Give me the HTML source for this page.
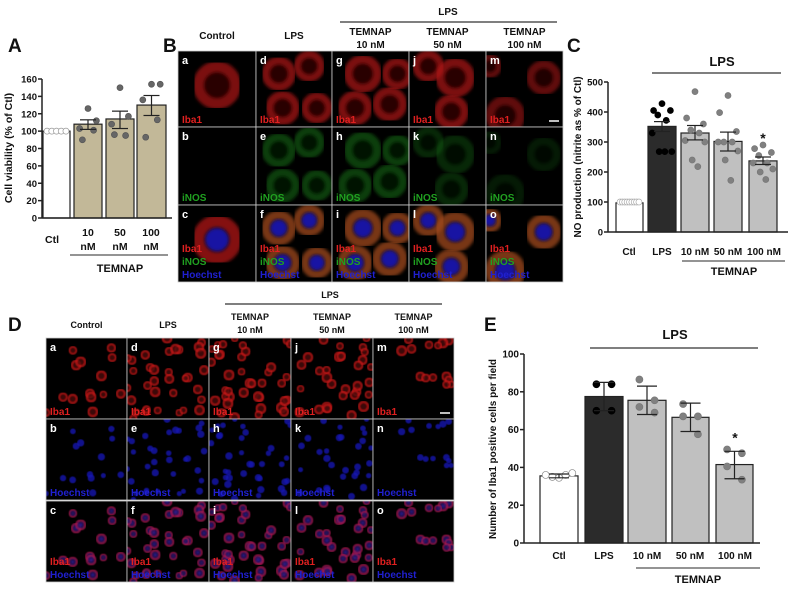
<!DOCTYPE html>
<html><head><meta charset="utf-8">
<style>
html,body{margin:0;padding:0;background:#fff;}
svg{display:block;font-family:"Liberation Sans",Arial,sans-serif;}
text{font-weight:bold;}
</style></head>
<body>
<svg id="fig" width="790" height="593" viewBox="0 0 790 593" xmlns="http://www.w3.org/2000/svg">
<defs>
<filter id="blur1"><feGaussianBlur stdDeviation="1.5"/></filter>
<filter id="blur2"><feGaussianBlur stdDeviation="0.6"/></filter>
</defs>
<g id="panelA"></g>
<g id="panelB"></g>
<g id="panelC"></g>
<g id="panelD"></g>
<g id="panelE"></g>
</svg>
<script>
// ---------- Panel A data ----------
const aCategories = ["Ctl","10 nM","50 nM","100 nM"];
const aMeans = [100,108,114,130];
const aErrLow = [100,102,103,118];
const aErrHigh = [100,113,123,141];
const aPoints = [[100,100,100,100,100],[126,112,103,101,90],[150,117,108,95,96],[154,154,136,113,93]];
const aTicks = [0,20,40,60,80,100,120,140,160];
// ---------- Panel C data ----------
const cCategories = ["Ctl","LPS","10 nM","50 nM","100 nM"];
const cMeans = [97,352,330,302,237];
const cErrLow = [97,335,307,270,225];
const cErrHigh = [97,368,355,333,250];
const cPoints = [[100,100,100,100,100,100,100,100,100],[428,405,405,390,372,330,268,268,268],[468,380,360,340,330,305,300,240,218],[455,398,335,300,300,300,270,240,172],[290,278,265,255,230,230,210,200,175]];
const cTicks = [0,100,200,300,400,500];
// ---------- Panel E data ----------
const eCategories = ["Ctl","LPS","10 nM","50 nM","100 nM"];
const eMeans = [35.5,77.5,75.5,66.5,41.5];
const eErrLow = [34.5,70,68,59,34];
const eErrHigh = [36.5,85,83,74,48.5];
const ePoints = [[36,35,34.5,36,37],[84,84,70,70],[86.5,75.5,72,69],[73.5,67,67,57.5],[49.5,47.5,40.5,33.5]];
const eTicks = [0,20,40,60,80,100];

const NS="http://www.w3.org/2000/svg";
function mk(parent,tag,attrs,txt){const e=document.createElementNS(NS,tag);for(const k in attrs)e.setAttribute(k,attrs[k]);if(txt!==undefined)e.textContent=txt;parent.appendChild(e);return e;}
const jitter={4:[0.3,0.7,0.3,0.7],5:[0.5,0.8,0.2,0.7,0.3],9:[0.5,0.2,0.8,0.35,0.65,0.15,0.85,0.4,0.6]};

function barChart(g,cfg,cats,means,lo,hi,pts,ticks){
  const y=v=>cfg.y0-(v-cfg.vmin)*(cfg.y0-cfg.yTop)/(cfg.vmax-cfg.vmin);
  cats.forEach((c,i)=>{
    const x0=cfg.bx[i][0],x1=cfg.bx[i][1];
    const r=mk(g,'rect',{x:x0,y:y(means[i]),width:x1-x0,height:cfg.y0-y(means[i]),fill:cfg.fills[i],stroke:'#222','stroke-width':1.2});
    
    
  });
  cats.forEach((c,i)=>{
    const x0=cfg.bx[i][0],x1=cfg.bx[i][1],w=x1-x0;
    const n=pts[i].length;
    pts[i].forEach((v,j)=>{
      const f = i===0 ? (0.15+0.7*j/(n-1)) : (jitter[n]?jitter[n][j]:0.5);
      const px = x0+w*f;
      const p=mk(g,'circle',{cx:px,cy:y(v),r:cfg.pr,fill:cfg.pf[i],stroke:cfg.ps[i],'stroke-width':0.7});
      
      
    });
  });
  cats.forEach((c,i)=>{
    if(lo[i]===hi[i])return;
    const cx=(cfg.bx[i][0]+cfg.bx[i][1])/2,cw=cfg.capW;
    const eg=mk(g,'g',{stroke:'#222','stroke-width':1.2});
    
    
    mk(eg,'line',{x1:cx,x2:cx,y1:y(lo[i]),y2:y(hi[i])});
    mk(eg,'line',{x1:cx-cw,x2:cx+cw,y1:y(lo[i]),y2:y(lo[i])});
    mk(eg,'line',{x1:cx-cw,x2:cx+cw,y1:y(hi[i]),y2:y(hi[i])});
  });
  const ax=mk(g,'g',{stroke:'#222','stroke-width':1.5});
  
  
  mk(ax,'line',{x1:cfg.ax,x2:cfg.ax,y1:cfg.yTop,y2:cfg.y0});
  mk(ax,'line',{x1:cfg.ax,x2:cfg.xEnd,y1:cfg.y0,y2:cfg.y0});
  ticks.forEach(t=>{
    mk(ax,'line',{x1:cfg.ax-4,x2:cfg.ax,y1:y(t),y2:y(t)});
    const tl=mk(g,'text',{x:cfg.ax-5,y:y(t)+3.5,'text-anchor':'end','font-size':cfg.tfs,fill:'#111'},t);
    
    
  });
  return y;
}
function txt(g,x,y,s,fs,name,anchor,fill,extra){const t=mk(g,'text',Object.assign({x:x,y:y,'font-size':fs,'text-anchor':anchor||'middle',fill:fill||'#111'},extra||{}),s);return t;}
function hline(g,x1,x2,y,name,c){const l=mk(g,'line',{x1:x1,x2:x2,y1:y,y2:y,stroke:c||'#555','stroke-width':1.2});}

(function(){
 const g=document.getElementById('panelA');
 txt(g,8,52,'A',19,'panel-label-a','start');
 barChart(g,{y0:218,yTop:79,vmin:0,vmax:160,ax:42,xEnd:172,bx:[[43,70],[74,102],[106,134],[137,166]],fills:['#fff','#c2b898','#c2b898','#c2b898'],pr:3,pf:['#fff','#666','#666','#666'],ps:['#999','#555','#555','#555'],capW:8,tfs:9.5},aCategories,aMeans,aErrLow,aErrHigh,aPoints,aTicks);
 txt(g,52,243,'Ctl',10.5,'x-label-ctl');
 [['10',88],['50',120],['100',151]].forEach(([n,x])=>{txt(g,x,236,n,10.5,'x-label-'+n+'-nm');txt(g,x,250,'nM',10.5,'x-label-'+n+'-nm-unit');});
 hline(g,70,168,255,'temnap-bracket');
 txt(g,120,272,'TEMNAP',11,'temnap-label');
 txt(g,0,0,'Cell viability (% of Ctl)',10.5,'y-axis-title','middle','#111',{transform:'translate(12,148) rotate(-90)'});
})();

(function(){
 const g=document.getElementById('panelC');
 txt(g,567,52,'C',19,'panel-label-c','start');
 const y=barChart(g,{y0:232,yTop:82,vmin:0,vmax:500,ax:608,xEnd:788,bx:[[616,643],[648,676],[681,709],[714,742],[749,777]],fills:['#fff','#2b2b2b','#c0c0c0','#c0c0c0','#c0c0c0'],pr:3,pf:['#fff','#000','#808080','#808080','#808080'],ps:['#aaa','#000','#777','#777','#777'],capW:8,tfs:9.5},cCategories,cMeans,cErrLow,cErrHigh,cPoints,cTicks);
 hline(g,652,781,73,'lps-bracket','#333');
 txt(g,722,66,'LPS',13,'lps-label');
 txt(g,763,y(cErrHigh[4])-14,'*',14,'significance-star');
 [['Ctl',629],['LPS',662],['10 nM',695],['50 nM',728],['100 nM',764]].forEach(([s,x])=>txt(g,x,255,s,10,'x-label-'+s.replace(' ','-').toLowerCase()));
 hline(g,682,785,261,'temnap-bracket');
 txt(g,734,275,'TEMNAP',11,'temnap-label');
 txt(g,0,0,'NO production (nitrite as % of Ctl)',10,'y-axis-title','middle','#111',{transform:'translate(581,157) rotate(-90)'});
})();

(function(){
 const g=document.getElementById('panelE');
 txt(g,484,331,'E',19,'panel-label-e','start');
 const y=barChart(g,{y0:543,yTop:354,vmin:0,vmax:100,ax:524,xEnd:760,bx:[[540,578],[585,623],[628,666],[672,709],[716,753]],fills:['#fff','#2b2b2b','#c0c0c0','#c0c0c0','#c0c0c0'],pr:3.5,pf:['#fff','#000','#808080','#808080','#808080'],ps:['#888','#000','#777','#777','#777'],capW:10,tfs:10},eCategories,eMeans,eErrLow,eErrHigh,ePoints,eTicks);
 hline(g,590,758,348,'lps-bracket','#333');
 txt(g,675,339,'LPS',13,'lps-label');
 txt(g,735,y(eErrHigh[4])-9,'*',14,'significance-star');
 [['Ctl',559],['LPS',604],['10 nM',647],['50 nM',690],['100 nM',735]].forEach(([s,x])=>txt(g,x,559,s,10,'x-label-'+s.replace(' ','-').toLowerCase()));
 hline(g,636,760,568,'temnap-bracket');
 txt(g,698,583,'TEMNAP',11,'temnap-label');
 txt(g,0,0,'Number of Iba1 positive cells per field',10,'y-axis-title','middle','#111',{transform:'translate(496,449) rotate(-90)'});
})();

// ---------- Micrographs ----------
let seed=7;function rnd(){seed=(seed*16807)%2147483647;return (seed-1)/2147483646;}
function micro(g,x,y,w,h,letter,labels,cells,scalebar,name){
 const pg=mk(g,'g',{});
 
 
 const cid='clip'+name;
 const cp=mk(pg,'clipPath',{id:cid});mk(cp,'rect',{x:x,y:y,width:w,height:h});
 mk(pg,'rect',{x:x,y:y,width:w,height:h,fill:'#000'});
 const cg=mk(pg,'g',{'clip-path':'url(#'+cid+')'});
 cells.forEach(c=>{
   mk(cg,'circle',{cx:c.x,cy:c.y,r:c.r*0.8,fill:c.fill2||'none',stroke:c.fill,'stroke-width':c.r*(c.sw||0.4),opacity:c.op,filter:'url('+(c.big?'#blur1':'#blur2')+')'});
   if(c.nuc)mk(cg,'circle',{cx:c.x,cy:c.y,r:c.r*0.5,fill:c.nuc,opacity:c.nop||0.85,filter:'url(#blur1)'});
 });
 txt(pg,x+4,y+13,letter,11,'panel-letter-'+letter,'start','#fff');
 labels.forEach((l,i)=>txt(pg,x+4,y+h-4-(labels.length-1-i)*13,l[0],10,'stain-label-'+l[0].toLowerCase(),'start',l[1],{'font-weight':'normal'}));
 if(scalebar)mk(pg,'line',{x1:x+w-14,x2:x+w-4,y1:y+h-6,y2:y+h-6,stroke:'#fff','stroke-width':1.5});
 mk(pg,'rect',{x:x,y:y,width:w,height:h,fill:'none',stroke:'#ccc','stroke-width':0.8});
}
(function(){
 const g=document.getElementById('panelB');
 txt(g,163,52,'B',19,'panel-label-b','start');
 const xs=[178,256,332,409,486,563], ys=[51,127,205,282];
 const heads=[['Control'],['LPS'],['TEMNAP','10 nM'],['TEMNAP','50 nM'],['TEMNAP','100 nM']];
 heads.forEach((h,i)=>{const cx=(xs[i]+xs[i+1])/2; if(h.length===1)txt(g,cx,39,h[0],10,'column-header-'+h[0].toLowerCase()); else {txt(g,cx,35,h[0],10,'column-header-temnap');txt(g,cx,48,h[1],10,'column-header-'+h[1].replace(' ','-').toLowerCase());}});
 hline(g,340,557,22,'lps-bracket','#333');
 txt(g,448,15,'LPS',10,'lps-header');
 const layouts=[[[0.5,0.45,0.3]],[[0.3,0.3,0.22],[0.7,0.2,0.2],[0.35,0.75,0.22],[0.8,0.75,0.2]],[[0.4,0.3,0.24],[0.85,0.3,0.2],[0.3,0.75,0.22],[0.75,0.7,0.22]],[[0.25,0.2,0.2],[0.6,0.35,0.25],[0.55,0.8,0.22]],[[0.05,0.2,0.15],[0.75,0.35,0.22],[0.25,0.85,0.25]]];
 const inten=[1,0.7,0.7,0.45,0.3];
 const letters=[['a','b','c'],['d','e','f'],['g','h','i'],['j','k','l'],['m','n','o']];
 for(let c=0;c<5;c++)for(let r=0;r<3;r++){
   const x=xs[c],y=ys[r],w=xs[c+1]-x,h=ys[r+1]-y;
   const cells=layouts[c].map(([u,v,s])=>{const cx=x+u*w,cy=y+v*h,rr=s*w;
     if(r===0)return{x:cx,y:cy,r:rr,fill:'#b01515',fill2:'#3a0505',op:c===4?0.55:0.7,sw:0.45,big:1};
     if(r===1)return{x:cx,y:cy,r:rr,fill:'#157015',fill2:'#062006',op:c===0?0:0.8*inten[c],sw:0.45,big:1};
     return{x:cx,y:cy,r:rr,fill:c===0?'#b01515':'#a04a1c',fill2:'#301005',nuc:'#1515c0',op:0.75,sw:0.5,big:1};});
   const lab=r===0?[['Iba1','#e02020']]:r===1?[['iNOS','#20a020']]:[['Iba1','#e02020'],['iNOS','#20a020'],['Hoechst','#2020d0']];
   micro(g,x,y,w,h,letters[c][r],lab,cells,c===4&&r===0,'micrograph-b-'+letters[c][r]);
 }
})();
(function(){
 const g=document.getElementById('panelD');
 txt(g,8,331,'D',19,'panel-label-d','start');
 const xs=[46,127,209,291,373,454], ys=[338,419,501,582];
 const heads=[['Control'],['LPS'],['TEMNAP','10 nM'],['TEMNAP','50 nM'],['TEMNAP','100 nM']];
 heads.forEach((h,i)=>{const cx=(xs[i]+xs[i+1])/2; if(h.length===1)txt(g,cx,328,h[0],9,'column-header-'+h[0].toLowerCase()); else {txt(g,cx,320,h[0],9,'column-header-temnap');txt(g,cx,333,h[1],9,'column-header-'+h[1].replace(' ','-').toLowerCase());}});
 hline(g,225,442,304,'lps-bracket','#333');
 txt(g,330,298,'LPS',9,'lps-header');
 const counts=[14,34,38,30,14];
 const letters=[['a','b','c'],['d','e','f'],['g','h','i'],['j','k','l'],['m','n','o']];
 for(let c=0;c<5;c++){
   const w=xs[c+1]-xs[c],h=ys[1]-ys[0];
   const pts=[];for(let k=0;k<counts[c];k++){let u=rnd(),v=rnd(); if(c===4){u=0.3+0.7*u;v=v*0.6;} pts.push([u*w,v*h,3.8+rnd()*1.8]);}
   for(let r=0;r<3;r++){
     const x=xs[c],y=ys[r];
     const cells=pts.map(([u,v,s])=>r===0?{x:x+u,y:y+v,r:s,fill:'#c01515',fill2:'#500808',op:0.75,sw:0.45}:r===1?{x:x+u,y:y+v,r:s*0.7,fill:'#1515b0',fill2:'#1515b0',op:0.8,sw:0.3}:{x:x+u,y:y+v,r:s,fill:'#a01550',fill2:'#300818',nuc:'#2020c0',op:0.75,sw:0.45,nop:0.8});
     const lab=r===0?[['Iba1','#e02020']]:r===1?[['Hoechst','#2020d0']]:[['Iba1','#e02020'],['Hoechst','#2020d0']];
     micro(g,x,y,w,h,letters[c][r],lab,cells,c===4&&r===0,'micrograph-d-'+letters[c][r]);
   }
 }
})();
</script>
</body></html>
